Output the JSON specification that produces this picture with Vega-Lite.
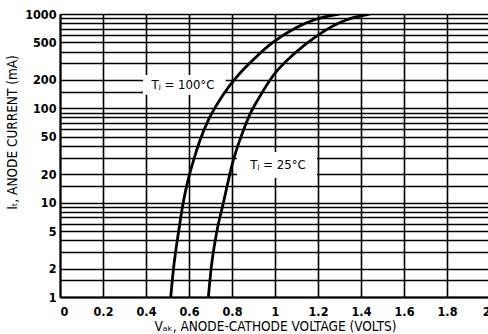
{
  "$schema": "https://vega.github.io/schema/vega-lite/v6.json",
  "width": 430,
  "height": 283,
  "autosize": {"type": "none"},
  "padding": {"left": 60, "top": 14, "right": 0, "bottom": 37},
  "background": "white",
  "config": {
    "view": {"stroke": null},
    "font": "DejaVu Sans Condensed, Liberation Sans, sans-serif",
    "axis": {
      "grid": true,
      "gridColor": "black",
      "gridOpacity": 1,
      "gridWidth": 1.6,
      "domainColor": "black",
      "domainWidth": 2,
      "ticks": false,
      "labelColor": "black",
      "labelFontSize": 12.5,
      "labelFontWeight": 600,
      "labelFont": "DejaVu Sans Condensed, Liberation Sans, sans-serif",
      "labelOverlap": false,
      "titleColor": "black",
      "titleFont": "DejaVu Sans Condensed, Liberation Sans, sans-serif",
      "titleFontSize": 13.5,
      "titleFontWeight": "normal"
    }
  },
  "datasets": {
    "curves": [
      {"t": "100", "v": 0.515, "i": 1},
      {"t": "100", "v": 0.528, "i": 2},
      {"t": "100", "v": 0.552, "i": 5},
      {"t": "100", "v": 0.573, "i": 10},
      {"t": "100", "v": 0.6, "i": 19},
      {"t": "100", "v": 0.625, "i": 30},
      {"t": "100", "v": 0.65, "i": 45},
      {"t": "100", "v": 0.69, "i": 75},
      {"t": "100", "v": 0.73, "i": 110},
      {"t": "100", "v": 0.79, "i": 175},
      {"t": "100", "v": 0.84, "i": 240},
      {"t": "100", "v": 0.9, "i": 330},
      {"t": "100", "v": 0.99, "i": 500},
      {"t": "100", "v": 1.1, "i": 720},
      {"t": "100", "v": 1.19, "i": 880},
      {"t": "100", "v": 1.3, "i": 1000},
      {"t": "25", "v": 0.69, "i": 1},
      {"t": "25", "v": 0.703, "i": 2},
      {"t": "25", "v": 0.73, "i": 5},
      {"t": "25", "v": 0.76, "i": 10},
      {"t": "25", "v": 0.78, "i": 16},
      {"t": "25", "v": 0.80, "i": 25},
      {"t": "25", "v": 0.85, "i": 56},
      {"t": "25", "v": 0.89, "i": 93},
      {"t": "25", "v": 0.92, "i": 123},
      {"t": "25", "v": 0.99, "i": 220},
      {"t": "25", "v": 1.09, "i": 380},
      {"t": "25", "v": 1.19, "i": 577},
      {"t": "25", "v": 1.33, "i": 865},
      {"t": "25", "v": 1.44, "i": 1000}
    ],
    "labels": [
      {"label": "Tⱼ = 100°C", "v": 0.572, "i": 177, "bx1": 0.386, "bx2": 0.77, "by1": 139, "by2": 226},
      {"label": "Tⱼ = 25°C", "v": 1.014, "i": 25, "bx1": 0.823, "bx2": 1.195, "by1": 18.3, "by2": 34.5}
    ]
  },
  "encoding": {
    "x": {
      "field": "v",
      "type": "quantitative",
      "scale": {"domain": [0, 2], "nice": false, "zero": false},
      "axis": {
        "values": [0, 0.2, 0.4, 0.6, 0.8, 1, 1.2, 1.4, 1.6, 1.8, 2],
        "format": "~g",
        "labelPadding": 8,
        "title": "Vₐₖ, ANODE-CATHODE VOLTAGE (VOLTS)",
        "titleY": 29,
        "titleBaseline": "middle"
      }
    },
    "y": {
      "field": "i",
      "type": "quantitative",
      "scale": {"type": "log", "domain": [1, 1000], "nice": false},
      "axis": {
        "values": [1, 1.5, 2, 3, 4, 5, 6, 7, 8, 9, 10, 15, 20, 30, 40, 50, 60, 70, 80, 90, 100, 150, 200, 300, 400, 500, 600, 700, 800, 900, 1000],
        "labelExpr": "indexof([1, 2, 5, 10, 20, 50, 100, 200, 500, 1000], datum.value) >= 0 ? '' + datum.value : ''",
        "labelPadding": 4,
        "title": "Iₜ, ANODE CURRENT (mA)",
        "titleX": -48,
        "titleY": 118,
        "titleAngle": 270,
        "titleBaseline": "middle",
        "titleAlign": "center"
      }
    }
  },
  "layer": [
    {
      "data": {"name": "labels"},
      "mark": {"type": "rect", "fill": "white"},
      "encoding": {
        "x": {"field": "bx1", "type": "quantitative"},
        "x2": {"field": "bx2"},
        "y": {"field": "by1", "type": "quantitative"},
        "y2": {"field": "by2"}
      }
    },
    {
      "data": {"name": "curves"},
      "mark": {"type": "line", "color": "black", "strokeWidth": 2.8, "interpolate": "monotone", "clip": true},
      "encoding": {
        "detail": {"field": "t", "type": "nominal"}
      }
    },
    {
      "data": {"name": "labels"},
      "mark": {"type": "text", "color": "black", "fontSize": 13, "font": "DejaVu Sans Condensed, Liberation Sans, sans-serif"},
      "encoding": {
        "text": {"field": "label", "type": "nominal"}
      }
    }
  ]
}
